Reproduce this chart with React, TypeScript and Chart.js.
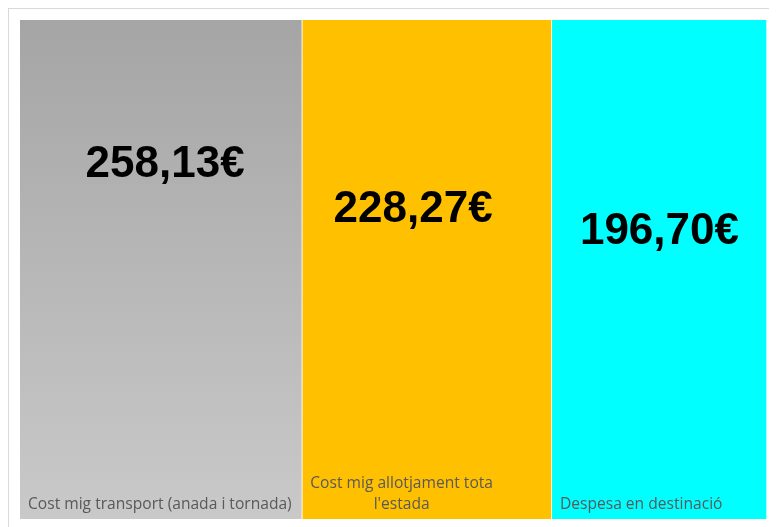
import React, { useEffect, useRef } from "react";
import { Chart, registerables } from "chart.js";

Chart.register(...registerables);

const categories: string[][] = [
  ["Cost mig transport (anada i tornada)"],
  ["Cost mig allotjament tota", "l'estada"],
  ["Despesa en destinació"],
];
const values: number[] = [258.13, 228.27, 196.7];
const valueLabels: string[] = ["258,13€", "228,27€", "196,70€"];
const colors: string[] = ["gray-gradient", "#FFC000", "#00FFFF"];

const labelPlugin = {
  id: "treeLabels",
  afterDatasetsDraw(chart: any, _args: any, opts: any) {
    const ctx = chart.ctx;
    const area = chart.chartArea;
    const h = area.bottom - area.top;
    chart.data.datasets.forEach((ds: any, i: number) => {
      const meta = chart.getDatasetMeta(i);
      const el = meta.data[0];
      if (!el) return;
      const left = Math.min(el.base, el.x);
      const right = Math.max(el.base, el.x);
      const cx = (left + right) / 2 + (opts.xShift[i] || 0);
      ctx.save();
      ctx.fillStyle = "#000000";
      ctx.font = "bold 44px 'Liberation Sans', Arial, sans-serif";
      ctx.textAlign = "center";
      ctx.textBaseline = "middle";
      ctx.fillText(valueLabels[i], cx, area.top + h * opts.yFrac[i]);
      // category label
      const lines: string[] = categories[i];
      ctx.font = "15.6px 'Open Sans', 'Liberation Sans', sans-serif";
      ctx.fillStyle = "#595959";
      ctx.textBaseline = "alphabetic";
      const lh = 21;
      const widths = lines.map((l) => ctx.measureText(l).width);
      const maxW = Math.max(...widths);
      const x0 = left + 8;
      lines.forEach((l, k) => {
        const y = area.bottom - 10 - (lines.length - 1 - k) * lh;
        ctx.textAlign = "center";
        ctx.fillText(l, x0 + maxW / 2, y);
      });
      ctx.restore();
    });
  },
};

export default function App() {
  const ref = useRef<HTMLCanvasElement | null>(null);
  useEffect(() => {
    if (!ref.current) return;
    const total = values.reduce((a, b) => a + b, 0);
    const chart = new Chart(ref.current, {
      type: "bar",
      data: {
        labels: [""],
        datasets: values.map((v, i) => ({
          label: categories[i].join(" "),
          data: [v],
          backgroundColor: (c: any) => {
            if (colors[i] !== "gray-gradient") return colors[i];
            const a = c.chart.chartArea;
            if (!a) return "#b5b5b5";
            const g = c.chart.ctx.createLinearGradient(0, a.top, 0, a.bottom);
            g.addColorStop(0, "#A5A5A5");
            g.addColorStop(1, "#C9C9C9");
            return g;
          },
          borderColor: "#ffffff",
          borderWidth: { left: 0, right: 1, top: 0, bottom: 0 },
          borderSkipped: false,
          barPercentage: 1,
          categoryPercentage: 1,
        })),
      },
      options: {
        indexAxis: "y",
        animation: false,
        responsive: false,
        maintainAspectRatio: false,
        layout: { padding: { left: 11, right: 10, top: 11, bottom: 8 } },
        scales: {
          x: { stacked: true, display: false, min: 0, max: total },
          y: { stacked: true, display: false },
        },
        plugins: {
          legend: { display: false },
          tooltip: { enabled: false },
          treeLabels: { yFrac: [0.291, 0.381, 0.425], xShift: [4, -14, 0] },
        } as any,
      },
      plugins: [labelPlugin],
    });
    return () => chart.destroy();
  }, []);
  return (
    <div
      style={{
        width: 769,
        height: 519,
        boxSizing: "border-box",
        borderTop: "1px solid #d9d9d9",
        borderLeft: "1px solid #d9d9d9",
        overflow: "hidden",
      }}
    >
      <canvas ref={ref} width={768} height={518} style={{ display: "block" }} />
    </div>
  );
}
